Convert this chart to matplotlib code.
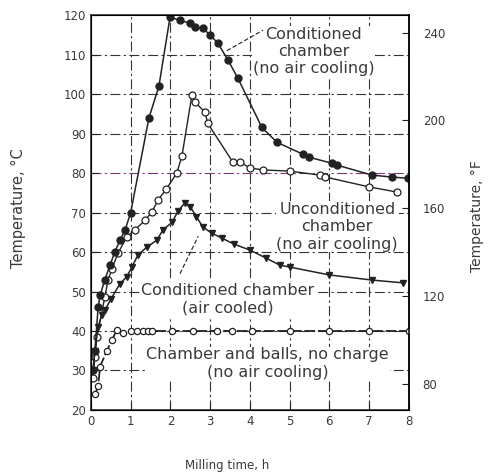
import matplotlib
matplotlib.use('Agg')
import matplotlib.pyplot as plt

# Conditioned chamber (no air cooling) - filled circles
t_cond = [0.05, 0.1, 0.18, 0.23, 0.35, 0.48, 0.6, 0.73, 0.86, 1.0, 1.46, 1.71, 1.99,
          2.24, 2.49, 2.62, 2.82, 2.99, 3.19, 3.45, 3.70, 4.30, 4.68, 5.33, 5.5,
          6.06, 6.2, 7.07, 7.57, 7.97]
T_cond = [30, 35, 46, 49, 53, 56.7, 60, 63, 65.6, 70, 94, 102, 119.5,
          118.7, 118, 117, 116.7, 115, 113, 108.6, 104, 91.6, 87.8, 84.8, 84,
          82.5, 82, 79.5, 79, 78.7]

# Unconditioned chamber (no air cooling) - open circles
t_uncond = [0.05, 0.1, 0.15, 0.35, 0.43, 0.53, 0.68, 0.9, 1.1, 1.36, 1.53, 1.69, 1.9,
            2.16, 2.29, 2.54, 2.62, 2.87, 2.94, 3.57, 3.75, 4.0, 4.33, 5.0, 5.76,
            5.9, 7.0, 7.7]
T_uncond = [28, 33.4, 38.5, 48.6, 52.9, 55.8, 59.7, 63.8, 65.6, 68, 70.1, 73.2, 76,
            80, 84.3, 99.7, 98, 95.4, 92.6, 82.8, 82.8, 81.3, 80.8, 80.5, 79.5,
            79, 76.5, 75.2]

# Conditioned chamber (air cooled) - filled triangles
t_air = [0.05, 0.1, 0.18, 0.27, 0.35, 0.5, 0.73, 0.9, 1.03, 1.18, 1.41, 1.66, 1.81,
         2.04, 2.2, 2.36, 2.5, 2.65, 2.82, 3.04, 3.3, 3.6, 4.0, 4.4, 4.75, 5.0,
         6.0, 7.07, 7.85]
T_air = [30, 35, 41, 44, 45.3, 48, 52, 53.7, 56.2, 59.2, 61.3, 63, 65.6,
         67.5, 70.5, 72.4, 71.5, 69, 66.3, 64.8, 63.5, 62, 60.5, 58.5, 56.7, 56.2,
         54.2, 52.9, 52.2]

# Chamber and balls, no charge - open circles
t_empty = [0.1, 0.18, 0.23, 0.4, 0.53, 0.65, 0.8, 1.0, 1.16, 1.3, 1.43, 1.53, 2.04,
           2.57, 3.17, 3.55, 4.05, 5.0, 6.0, 7.0, 8.0]
T_empty = [24, 26, 31, 35, 37.7, 40.3, 39.5, 40, 40, 40, 40, 40, 40,
           40, 40, 40, 40, 40, 40, 40, 40]

c_ticks = [20, 30, 40, 50, 60, 70, 80, 90, 100, 110, 120]
f_ticks = [80, 120, 160, 200, 240]
h_ticks = [0, 1, 2, 3, 4, 5, 6, 7, 8]

ink = '#222222'
txt = '#3a3a3a'

fig = plt.figure(figsize=(4.89, 4.75), dpi=100)
ax = fig.add_axes([0.186, 0.137, 0.65, 0.831])

# grid (scanned-looking dash-dot lines)
for y in c_ticks[1:-1]:
    col = '#7a3a7a' if y == 80 else '#333333'
    ax.axhline(y, color=col, lw=0.8, ls=(0, (9, 3, 2, 3)), zorder=1)
for x in h_ticks[1:-1]:
    ax.axvline(x, color='#333333', lw=0.8, ls=(0, (9, 3, 2, 3)), zorder=1)

ax.plot(t_cond, T_cond, '-', color=ink, lw=1.1, marker='o', ms=5,
        mfc=ink, mec=ink, zorder=4)
ax.plot(t_uncond, T_uncond, '-', color=ink, lw=1.0, marker='o', ms=5,
        mfc='white', mec=ink, mew=0.9, zorder=3)
ax.plot(t_air, T_air, '-', color=ink, lw=1.1, marker='v', ms=5,
        mfc=ink, mec=ink, zorder=4)
ax.plot(t_empty, T_empty, ls=(0, (6, 1.5)), color=ink, lw=1.3, marker='o', ms=4.5,
        mfc='white', mec=ink, mew=0.9, zorder=3)

ax.set_xlim(0, 8)
ax.set_ylim(20, 120)
ax.set_xticks(h_ticks)
ax.set_yticks(c_ticks)
ax.tick_params(direction='in', length=5, width=0.8, colors=ink, labelcolor=txt,
               labelsize=8.5)
for s in ax.spines.values():
    s.set_linewidth(1.1)
    s.set_color(ink)

ax.set_xlabel('Milling time, h', fontsize=8.5, color=txt)
ax.xaxis.set_label_coords(0.428, -0.125)
ax.set_ylabel('Temperature, °C', fontsize=10.5, color=txt)
ax.yaxis.set_label_coords(-0.203, 0.51)

# Fahrenheit axis on the right
ax2 = ax.twinx()
ax2.set_ylim(20 * 1.8 + 32, 120 * 1.8 + 32)
ax2.set_yticks(f_ticks)
ax2.tick_params(direction='in', length=5, width=0.8, colors=ink, labelcolor=txt,
                labelsize=8.5, pad=10)
ax2.spines['right'].set_linewidth(1.1)
ax2.set_ylabel('Temperature, °F', fontsize=10, color=txt)
ax2.yaxis.set_label_coords(1.193, 0.49)

kw = dict(fontsize=11.5, color=txt, ha='center', va='center', linespacing=1.2)
box = dict(fc='white', ec='none', pad=0.5)
ax.text(5.61, 110.8, 'Conditioned\nchamber\n(no air cooling)', **kw, bbox=box, zorder=5)
ax.plot([3.42, 4.33], [111, 116.2], color=ink, lw=0.8, ls=(0, (4, 2)), zorder=5)
ax.text(6.2, 66.4, 'Unconditioned\nchamber\n(no air cooling)', **kw, bbox=box, zorder=5)
ax.text(3.45, 48.1, 'Conditioned chamber\n(air cooled)', **kw, bbox=box, zorder=5)
ax.plot([2.24, 2.7], [54.5, 64], color=ink, lw=0.8, ls=(0, (4, 2)), zorder=5)
ax.text(4.45, 31.8, 'Chamber and balls, no charge\n(no air cooling)', **kw, bbox=box, zorder=5)

fig.savefig('out.png', dpi=100, facecolor='white')
